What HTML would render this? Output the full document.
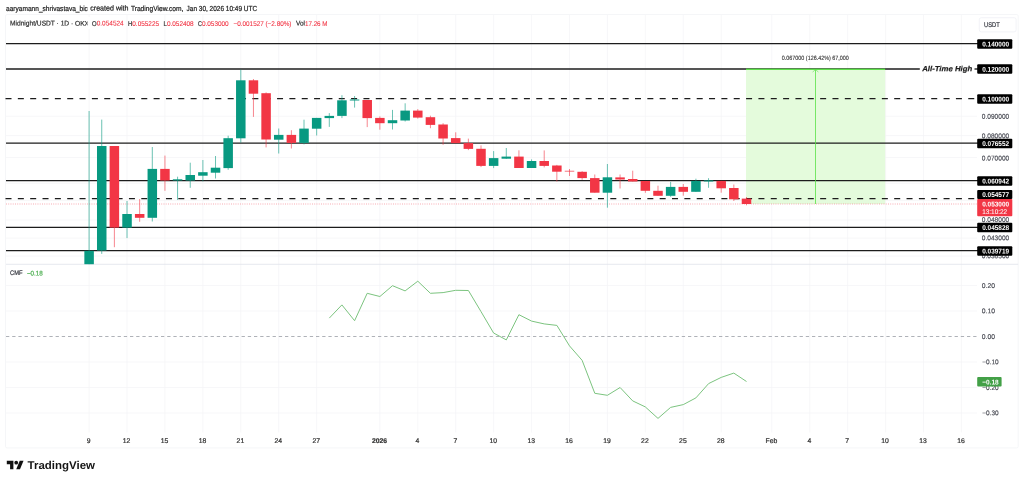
<!DOCTYPE html>
<html lang="en"><head><meta charset="utf-8"><title>Midnight/USDT chart</title>
<style>html,body{margin:0;padding:0;background:#fff;}body{width:1024px;height:482px;overflow:hidden;font-family:"Liberation Sans",Arial,sans-serif;}svg{display:block;}</style>
</head><body>
<svg width="1024" height="482" viewBox="0 0 1024 482" font-family="'Liberation Sans', Arial, sans-serif">
<rect width="1024" height="482" fill="#fff"/>
<rect x="5.5" y="14.5" width="1012.7" height="433.4" rx="1.5" fill="none" stroke="#f3f4f6" stroke-width="0.8"/>
<line x1="89.10" y1="15" x2="89.10" y2="432.5" stroke="#f3f4f6" stroke-width="0.7"/>
<line x1="127.03" y1="15" x2="127.03" y2="432.5" stroke="#f3f4f6" stroke-width="0.7"/>
<line x1="164.95" y1="15" x2="164.95" y2="432.5" stroke="#f3f4f6" stroke-width="0.7"/>
<line x1="202.88" y1="15" x2="202.88" y2="432.5" stroke="#f3f4f6" stroke-width="0.7"/>
<line x1="240.80" y1="15" x2="240.80" y2="432.5" stroke="#f3f4f6" stroke-width="0.7"/>
<line x1="278.73" y1="15" x2="278.73" y2="432.5" stroke="#f3f4f6" stroke-width="0.7"/>
<line x1="316.66" y1="15" x2="316.66" y2="432.5" stroke="#f3f4f6" stroke-width="0.7"/>
<line x1="379.87" y1="15" x2="379.87" y2="432.5" stroke="#f3f4f6" stroke-width="0.7"/>
<line x1="417.79" y1="15" x2="417.79" y2="432.5" stroke="#f3f4f6" stroke-width="0.7"/>
<line x1="455.72" y1="15" x2="455.72" y2="432.5" stroke="#f3f4f6" stroke-width="0.7"/>
<line x1="493.64" y1="15" x2="493.64" y2="432.5" stroke="#f3f4f6" stroke-width="0.7"/>
<line x1="531.57" y1="15" x2="531.57" y2="432.5" stroke="#f3f4f6" stroke-width="0.7"/>
<line x1="569.50" y1="15" x2="569.50" y2="432.5" stroke="#f3f4f6" stroke-width="0.7"/>
<line x1="607.42" y1="15" x2="607.42" y2="432.5" stroke="#f3f4f6" stroke-width="0.7"/>
<line x1="645.35" y1="15" x2="645.35" y2="432.5" stroke="#f3f4f6" stroke-width="0.7"/>
<line x1="683.27" y1="15" x2="683.27" y2="432.5" stroke="#f3f4f6" stroke-width="0.7"/>
<line x1="721.20" y1="15" x2="721.20" y2="432.5" stroke="#f3f4f6" stroke-width="0.7"/>
<line x1="771.77" y1="15" x2="771.77" y2="432.5" stroke="#f3f4f6" stroke-width="0.7"/>
<line x1="809.69" y1="15" x2="809.69" y2="432.5" stroke="#f3f4f6" stroke-width="0.7"/>
<line x1="847.62" y1="15" x2="847.62" y2="432.5" stroke="#f3f4f6" stroke-width="0.7"/>
<line x1="885.55" y1="15" x2="885.55" y2="432.5" stroke="#f3f4f6" stroke-width="0.7"/>
<line x1="923.47" y1="15" x2="923.47" y2="432.5" stroke="#f3f4f6" stroke-width="0.7"/>
<line x1="961.40" y1="15" x2="961.40" y2="432.5" stroke="#f3f4f6" stroke-width="0.7"/>
<line x1="6" y1="116.25" x2="977" y2="116.25" stroke="#f3f4f6" stroke-width="0.7"/>
<line x1="6" y1="135.59" x2="977" y2="135.59" stroke="#f3f4f6" stroke-width="0.7"/>
<line x1="6" y1="157.51" x2="977" y2="157.51" stroke="#f3f4f6" stroke-width="0.7"/>
<line x1="6" y1="183.30" x2="977" y2="183.30" stroke="#f3f4f6" stroke-width="0.7"/>
<line x1="6" y1="200.40" x2="977" y2="200.40" stroke="#f3f4f6" stroke-width="0.7"/>
<line x1="6" y1="219.97" x2="977" y2="219.97" stroke="#f3f4f6" stroke-width="0.7"/>
<line x1="6" y1="238.10" x2="977" y2="238.10" stroke="#f3f4f6" stroke-width="0.7"/>
<line x1="6" y1="256.08" x2="977" y2="256.08" stroke="#f3f4f6" stroke-width="0.7"/>
<line x1="6" y1="285.50" x2="977" y2="285.50" stroke="#f3f4f6" stroke-width="0.7"/>
<line x1="6" y1="311.00" x2="977" y2="311.00" stroke="#f3f4f6" stroke-width="0.7"/>
<line x1="6" y1="362.00" x2="977" y2="362.00" stroke="#f3f4f6" stroke-width="0.7"/>
<line x1="6" y1="387.50" x2="977" y2="387.50" stroke="#f3f4f6" stroke-width="0.7"/>
<line x1="6" y1="413.00" x2="977" y2="413.00" stroke="#f3f4f6" stroke-width="0.7"/>
<line x1="6" y1="264.3" x2="1018.2" y2="264.3" stroke="#e0e3eb" stroke-width="0.8"/>
<rect x="746" y="69" width="139.20000000000005" height="135" fill="#e4fbdc"/>
<line x1="6" y1="43.60" x2="978" y2="43.60" stroke="#1c1c1c" stroke-width="1.2"/>
<line x1="6" y1="143.05" x2="978" y2="143.05" stroke="#1c1c1c" stroke-width="1.3"/>
<line x1="6" y1="180.60" x2="978" y2="180.60" stroke="#1c1c1c" stroke-width="1.2"/>
<line x1="6" y1="227.30" x2="978" y2="227.30" stroke="#1c1c1c" stroke-width="1.2"/>
<line x1="6" y1="250.60" x2="978" y2="250.60" stroke="#1c1c1c" stroke-width="1.2"/>
<line x1="6" y1="69.00" x2="919.8" y2="69.00" stroke="#1c1c1c" stroke-width="1.35"/>
<line x1="974.5" y1="69.00" x2="978" y2="69.00" stroke="#1c1c1c" stroke-width="1.35"/>
<line x1="5.5" y1="98.55" x2="977" y2="98.55" stroke="#1c1c1c" stroke-width="1.2" stroke-dasharray="6.0 6.343"/>
<line x1="5.5" y1="198.55" x2="977" y2="198.55" stroke="#1c1c1c" stroke-width="1.2" stroke-dasharray="6.0 6.343"/>
<line x1="746" y1="69.5" x2="885.2" y2="69.5" stroke="#5ee04a" stroke-width="1"/>
<line x1="746" y1="68.6" x2="885.2" y2="68.6" stroke="#5ee04a" stroke-width="0.8" stroke-opacity="0.5"/>
<line x1="815.5" y1="69" x2="815.5" y2="204" stroke="#56e244" stroke-width="0.78"/>
<path d="M812.6 72 L815.5 69.6 L818.4 72" fill="none" stroke="#52e040" stroke-width="0.7" stroke-opacity="0.8"/>
<line x1="6" y1="204.0" x2="977" y2="204.0" stroke="#f47d88" stroke-width="1.5" stroke-dasharray="0.9 1.35" stroke-opacity="0.47"/>
<line x1="89.10" y1="111" x2="89.10" y2="264.2" stroke="#089981" stroke-width="1" stroke-opacity="0.6"/>
<rect x="84.35" y="250.8" width="9.5" height="13.40" fill="#089981"/>
<line x1="101.74" y1="119.6" x2="101.74" y2="253.9" stroke="#089981" stroke-width="1" stroke-opacity="0.6"/>
<rect x="96.99" y="146" width="9.5" height="104.50" fill="#089981"/>
<line x1="114.38" y1="146" x2="114.38" y2="247.2" stroke="#f23645" stroke-width="1" stroke-opacity="0.6"/>
<rect x="109.63" y="146" width="9.5" height="81.60" fill="#f23645"/>
<line x1="127.03" y1="201" x2="127.03" y2="238.1" stroke="#089981" stroke-width="1" stroke-opacity="0.6"/>
<rect x="122.28" y="214" width="9.5" height="13.60" fill="#089981"/>
<line x1="139.67" y1="199" x2="139.67" y2="221.8" stroke="#f23645" stroke-width="1" stroke-opacity="0.6"/>
<rect x="134.92" y="214" width="9.5" height="3.80" fill="#f23645"/>
<line x1="152.31" y1="147" x2="152.31" y2="221.5" stroke="#089981" stroke-width="1" stroke-opacity="0.6"/>
<rect x="147.56" y="168.9" width="9.5" height="48.90" fill="#089981"/>
<line x1="164.95" y1="155.6" x2="164.95" y2="190.8" stroke="#f23645" stroke-width="1" stroke-opacity="0.6"/>
<rect x="160.20" y="168.9" width="9.5" height="11.60" fill="#f23645"/>
<line x1="177.59" y1="176.7" x2="177.59" y2="199.9" stroke="#089981" stroke-width="1" stroke-opacity="0.6"/>
<rect x="172.84" y="179.3" width="9.5" height="1.20" fill="#089981"/>
<line x1="190.24" y1="162.7" x2="190.24" y2="187.8" stroke="#089981" stroke-width="1" stroke-opacity="0.6"/>
<rect x="185.49" y="175" width="9.5" height="5.50" fill="#089981"/>
<line x1="202.88" y1="160" x2="202.88" y2="181.3" stroke="#089981" stroke-width="1" stroke-opacity="0.6"/>
<rect x="198.13" y="172.2" width="9.5" height="3.50" fill="#089981"/>
<line x1="215.52" y1="156" x2="215.52" y2="178.5" stroke="#089981" stroke-width="1" stroke-opacity="0.6"/>
<rect x="210.77" y="167.7" width="9.5" height="5.00" fill="#089981"/>
<line x1="228.16" y1="135.7" x2="228.16" y2="169.8" stroke="#089981" stroke-width="1" stroke-opacity="0.6"/>
<rect x="223.41" y="138.2" width="9.5" height="29.90" fill="#089981"/>
<line x1="240.80" y1="69.6" x2="240.80" y2="142.7" stroke="#089981" stroke-width="1" stroke-opacity="0.6"/>
<rect x="236.05" y="80.3" width="9.5" height="58.00" fill="#089981"/>
<line x1="253.45" y1="79" x2="253.45" y2="116.9" stroke="#f23645" stroke-width="1" stroke-opacity="0.6"/>
<rect x="248.70" y="80.3" width="9.5" height="13.40" fill="#f23645"/>
<line x1="266.09" y1="92.4" x2="266.09" y2="147.4" stroke="#f23645" stroke-width="1" stroke-opacity="0.6"/>
<rect x="261.34" y="93.2" width="9.5" height="46.30" fill="#f23645"/>
<line x1="278.73" y1="128.5" x2="278.73" y2="153.5" stroke="#089981" stroke-width="1" stroke-opacity="0.6"/>
<rect x="273.98" y="134.9" width="9.5" height="4.80" fill="#089981"/>
<line x1="291.37" y1="130.2" x2="291.37" y2="148.5" stroke="#f23645" stroke-width="1" stroke-opacity="0.6"/>
<rect x="286.62" y="134.9" width="9.5" height="8.00" fill="#f23645"/>
<line x1="304.01" y1="119.7" x2="304.01" y2="144.4" stroke="#089981" stroke-width="1" stroke-opacity="0.6"/>
<rect x="299.26" y="128.6" width="9.5" height="14.30" fill="#089981"/>
<line x1="316.66" y1="117.9" x2="316.66" y2="135.5" stroke="#089981" stroke-width="1" stroke-opacity="0.6"/>
<rect x="311.91" y="117.9" width="9.5" height="10.80" fill="#089981"/>
<line x1="329.30" y1="113.1" x2="329.30" y2="126.9" stroke="#089981" stroke-width="1" stroke-opacity="0.6"/>
<rect x="324.55" y="115.9" width="9.5" height="2.20" fill="#089981"/>
<line x1="341.94" y1="95.2" x2="341.94" y2="118.1" stroke="#089981" stroke-width="1" stroke-opacity="0.6"/>
<rect x="337.19" y="100.3" width="9.5" height="15.60" fill="#089981"/>
<line x1="354.58" y1="96" x2="354.58" y2="107.6" stroke="#089981" stroke-width="1" stroke-opacity="0.6"/>
<rect x="349.83" y="99.5" width="9.5" height="1.00" fill="#089981"/>
<line x1="367.22" y1="100" x2="367.22" y2="127.1" stroke="#f23645" stroke-width="1" stroke-opacity="0.6"/>
<rect x="362.47" y="100" width="9.5" height="18.10" fill="#f23645"/>
<line x1="379.87" y1="116.4" x2="379.87" y2="129.7" stroke="#f23645" stroke-width="1" stroke-opacity="0.6"/>
<rect x="375.12" y="117.9" width="9.5" height="5.30" fill="#f23645"/>
<line x1="392.51" y1="109.9" x2="392.51" y2="129.5" stroke="#089981" stroke-width="1" stroke-opacity="0.6"/>
<rect x="387.76" y="120.2" width="9.5" height="3.00" fill="#089981"/>
<line x1="405.15" y1="103.3" x2="405.15" y2="121.5" stroke="#089981" stroke-width="1" stroke-opacity="0.6"/>
<rect x="400.40" y="110.6" width="9.5" height="9.90" fill="#089981"/>
<line x1="417.79" y1="109.1" x2="417.79" y2="118.6" stroke="#f23645" stroke-width="1" stroke-opacity="0.6"/>
<rect x="413.04" y="110.6" width="9.5" height="7.00" fill="#f23645"/>
<line x1="430.43" y1="115.7" x2="430.43" y2="128.2" stroke="#f23645" stroke-width="1" stroke-opacity="0.6"/>
<rect x="425.68" y="117.2" width="9.5" height="7.70" fill="#f23645"/>
<line x1="443.08" y1="123.2" x2="443.08" y2="144.8" stroke="#f23645" stroke-width="1" stroke-opacity="0.6"/>
<rect x="438.33" y="124.5" width="9.5" height="14.00" fill="#f23645"/>
<line x1="455.72" y1="132.3" x2="455.72" y2="143.1" stroke="#f23645" stroke-width="1" stroke-opacity="0.6"/>
<rect x="450.97" y="138.1" width="9.5" height="5.00" fill="#f23645"/>
<line x1="468.36" y1="138.6" x2="468.36" y2="150.1" stroke="#f23645" stroke-width="1" stroke-opacity="0.6"/>
<rect x="463.61" y="143.1" width="9.5" height="5.80" fill="#f23645"/>
<line x1="481.00" y1="145.4" x2="481.00" y2="167.1" stroke="#f23645" stroke-width="1" stroke-opacity="0.6"/>
<rect x="476.25" y="148.8" width="9.5" height="17.10" fill="#f23645"/>
<line x1="493.64" y1="151.1" x2="493.64" y2="168.1" stroke="#089981" stroke-width="1" stroke-opacity="0.6"/>
<rect x="488.89" y="158.1" width="9.5" height="7.80" fill="#089981"/>
<line x1="506.29" y1="148" x2="506.29" y2="158.9" stroke="#089981" stroke-width="1" stroke-opacity="0.6"/>
<rect x="501.54" y="156.6" width="9.5" height="2.10" fill="#089981"/>
<line x1="518.93" y1="150.3" x2="518.93" y2="168" stroke="#f23645" stroke-width="1" stroke-opacity="0.6"/>
<rect x="514.18" y="156.6" width="9.5" height="11.40" fill="#f23645"/>
<line x1="531.57" y1="159.4" x2="531.57" y2="168" stroke="#089981" stroke-width="1" stroke-opacity="0.6"/>
<rect x="526.82" y="161" width="9.5" height="7.00" fill="#089981"/>
<line x1="544.21" y1="150.4" x2="544.21" y2="167.4" stroke="#f23645" stroke-width="1" stroke-opacity="0.6"/>
<rect x="539.46" y="161" width="9.5" height="4.90" fill="#f23645"/>
<line x1="556.85" y1="164.9" x2="556.85" y2="181.5" stroke="#f23645" stroke-width="1" stroke-opacity="0.6"/>
<rect x="552.10" y="165.5" width="9.5" height="6.20" fill="#f23645"/>
<line x1="569.50" y1="169" x2="569.50" y2="176" stroke="#f23645" stroke-width="1" stroke-opacity="0.6"/>
<rect x="564.75" y="170.8" width="9.5" height="0.70" fill="#f23645"/>
<line x1="582.14" y1="171.2" x2="582.14" y2="179.8" stroke="#f23645" stroke-width="1" stroke-opacity="0.6"/>
<rect x="577.39" y="171.8" width="9.5" height="6.30" fill="#f23645"/>
<line x1="594.78" y1="174.5" x2="594.78" y2="192.7" stroke="#f23645" stroke-width="1" stroke-opacity="0.6"/>
<rect x="590.03" y="178.1" width="9.5" height="14.60" fill="#f23645"/>
<line x1="607.42" y1="164" x2="607.42" y2="207.7" stroke="#089981" stroke-width="1" stroke-opacity="0.6"/>
<rect x="602.67" y="177.3" width="9.5" height="15.40" fill="#089981"/>
<line x1="620.06" y1="174.5" x2="620.06" y2="188.5" stroke="#f23645" stroke-width="1" stroke-opacity="0.6"/>
<rect x="615.31" y="177.4" width="9.5" height="2.10" fill="#f23645"/>
<line x1="632.71" y1="170.7" x2="632.71" y2="181.5" stroke="#f23645" stroke-width="1" stroke-opacity="0.6"/>
<rect x="627.96" y="179" width="9.5" height="2.50" fill="#f23645"/>
<line x1="645.35" y1="181" x2="645.35" y2="192.8" stroke="#f23645" stroke-width="1" stroke-opacity="0.6"/>
<rect x="640.60" y="181" width="9.5" height="9.80" fill="#f23645"/>
<line x1="657.99" y1="185.7" x2="657.99" y2="195.8" stroke="#f23645" stroke-width="1" stroke-opacity="0.6"/>
<rect x="653.24" y="190.8" width="9.5" height="5.00" fill="#f23645"/>
<line x1="670.63" y1="181.9" x2="670.63" y2="196.8" stroke="#089981" stroke-width="1" stroke-opacity="0.6"/>
<rect x="665.88" y="186.9" width="9.5" height="8.90" fill="#089981"/>
<line x1="683.27" y1="184" x2="683.27" y2="195.7" stroke="#f23645" stroke-width="1" stroke-opacity="0.6"/>
<rect x="678.52" y="186.9" width="9.5" height="4.90" fill="#f23645"/>
<line x1="695.92" y1="178.7" x2="695.92" y2="191.8" stroke="#089981" stroke-width="1" stroke-opacity="0.6"/>
<rect x="691.17" y="180.9" width="9.5" height="10.90" fill="#089981"/>
<line x1="708.56" y1="178.2" x2="708.56" y2="187.8" stroke="#089981" stroke-width="1" stroke-opacity="0.6"/>
<rect x="703.81" y="180.4" width="9.5" height="1.10" fill="#089981"/>
<line x1="721.20" y1="180.9" x2="721.20" y2="192.7" stroke="#f23645" stroke-width="1" stroke-opacity="0.6"/>
<rect x="716.45" y="180.9" width="9.5" height="7.40" fill="#f23645"/>
<line x1="733.84" y1="184.5" x2="733.84" y2="201" stroke="#f23645" stroke-width="1" stroke-opacity="0.6"/>
<rect x="729.09" y="188" width="9.5" height="11.30" fill="#f23645"/>
<line x1="746.48" y1="197" x2="746.48" y2="205.3" stroke="#f23645" stroke-width="1" stroke-opacity="0.6"/>
<rect x="741.73" y="198.6" width="9.5" height="5.40" fill="#f23645"/>
<polyline points="329.3,318.1 341.9,304.9 354.6,320.7 367.2,293.3 379.9,296.5 392.5,285.7 405.1,290.9 417.8,281.2 430.4,293.3 443.1,292.6 455.7,290.3 468.4,290.5 481.0,311.6 493.6,333.0 506.3,339.9 518.9,314.7 531.6,321.1 544.2,323.9 556.9,325.4 569.5,345.9 582.1,360.3 594.8,393.3 607.4,395.3 620.1,387.5 632.7,400.9 645.3,406.9 658.0,418.4 670.6,407.4 683.3,404.6 695.9,397.9 708.6,383.6 721.2,377.4 733.8,373.1 746.5,381.5" fill="none" stroke="#7cc47f" stroke-width="1.0" stroke-linejoin="round"/>
<line x1="6" y1="336.5" x2="977" y2="336.5" stroke="#8d909a" stroke-width="0.7" stroke-dasharray="3.3 2.9"/>
<text x="6" y="10.6" font-size="7.3" fill="#222" stroke="#222" stroke-width="0.22" textLength="81.9" lengthAdjust="spacingAndGlyphs" transform="rotate(0.03 6 10.6)">aaryamann_shrivastava_bic</text>
<text x="90.25" y="10.6" font-size="7.3" fill="#222" stroke="#222" stroke-width="0.22" textLength="38.25" lengthAdjust="spacingAndGlyphs" transform="rotate(0.03 90.25 10.6)">created with</text>
<text x="130.9" y="10.6" font-size="7.3" fill="#222" stroke="#222" stroke-width="0.22" textLength="52.4" lengthAdjust="spacingAndGlyphs" transform="rotate(0.03 130.9 10.6)">TradingView.com,</text>
<text x="186.6" y="10.6" font-size="7.3" fill="#222" stroke="#222" stroke-width="0.22" textLength="70.5" lengthAdjust="spacingAndGlyphs" transform="rotate(0.03 186.6 10.6)">Jan 30, 2026 10:49 UTC</text>
<text x="10" y="25.6" font-size="6.9" fill="#333" stroke="#333" stroke-width="0.22" textLength="79" lengthAdjust="spacingAndGlyphs" transform="rotate(0.03 10 25.6)">Midnight/USDT · 1D · OKX</text>
<rect x="87.6" y="17" width="4" height="12" fill="#fff"/>
<text x="92.0" y="25.6" font-size="6.9" fill="#333" stroke="#333" stroke-width="0.22" textLength="4.6" lengthAdjust="spacingAndGlyphs" transform="rotate(0.03 92.0 25.6)">O</text>
<text x="96.7" y="25.6" font-size="6.9" fill="#f23645" stroke="#f23645" stroke-width="0.1" textLength="27" lengthAdjust="spacingAndGlyphs" transform="rotate(0.03 96.7 25.6)">0.054524</text>
<text x="127.9" y="25.6" font-size="6.9" fill="#333" stroke="#333" stroke-width="0.22" textLength="4.3" lengthAdjust="spacingAndGlyphs" transform="rotate(0.03 127.9 25.6)">H</text>
<text x="132.3" y="25.6" font-size="6.9" fill="#f23645" stroke="#f23645" stroke-width="0.1" textLength="26.8" lengthAdjust="spacingAndGlyphs" transform="rotate(0.03 132.3 25.6)">0.055225</text>
<text x="163.5" y="25.6" font-size="6.9" fill="#333" stroke="#333" stroke-width="0.22" textLength="3.3" lengthAdjust="spacingAndGlyphs" transform="rotate(0.03 163.5 25.6)">L</text>
<text x="166.9" y="25.6" font-size="6.9" fill="#f23645" stroke="#f23645" stroke-width="0.1" textLength="26.8" lengthAdjust="spacingAndGlyphs" transform="rotate(0.03 166.9 25.6)">0.052408</text>
<text x="197.9" y="25.6" font-size="6.9" fill="#333" stroke="#333" stroke-width="0.22" textLength="4.0" lengthAdjust="spacingAndGlyphs" transform="rotate(0.03 197.9 25.6)">C</text>
<text x="201.9" y="25.6" font-size="6.9" fill="#f23645" stroke="#f23645" stroke-width="0.1" textLength="26.8" lengthAdjust="spacingAndGlyphs" transform="rotate(0.03 201.9 25.6)">0.053000</text>
<text x="233.5" y="25.6" font-size="6.9" fill="#f23645" stroke="#f23645" stroke-width="0.1" textLength="58" lengthAdjust="spacingAndGlyphs" transform="rotate(0.03 233.5 25.6)">−0.001527 (−2.80%)</text>
<text x="296" y="25.6" font-size="6.9" fill="#333" stroke="#333" stroke-width="0.22" textLength="9" lengthAdjust="spacingAndGlyphs" transform="rotate(0.03 296 25.6)">Vol</text>
<text x="305" y="25.6" font-size="6.9" fill="#f23645" stroke="#f23645" stroke-width="0.1" textLength="22.5" lengthAdjust="spacingAndGlyphs" transform="rotate(0.03 305 25.6)">17.26 M</text>
<text x="10" y="275.4" font-size="6.7" fill="#3a3c44" stroke="#3a3c44" stroke-width="0.22" textLength="12.5" lengthAdjust="spacingAndGlyphs" transform="rotate(0.03 10 275.4)">CMF</text>
<text x="26.9" y="275.4" font-size="6.7" fill="#4caf50" stroke="#4caf50" stroke-width="0.22" textLength="16" lengthAdjust="spacingAndGlyphs" transform="rotate(0.03 26.9 275.4)">−0.18</text>
<rect x="979.3" y="17.7" width="36.8" height="14.2" rx="2" fill="#fff" stroke="#eceef3" stroke-width="0.7"/>
<text x="984.1" y="27.45" font-size="6.9" fill="#3a3c44" stroke="#3a3c44" stroke-width="0.22" textLength="15.6" lengthAdjust="spacingAndGlyphs" transform="rotate(0.03 984.1 27.45)">USDT</text>
<text x="981.8" y="118.85" font-size="6.9" fill="#454750" stroke="#454750" stroke-width="0.14" textLength="27.4" lengthAdjust="spacingAndGlyphs" transform="rotate(0.03 981.8 118.85)">0.090000</text>
<text x="981.8" y="138.19" font-size="6.9" fill="#454750" stroke="#454750" stroke-width="0.14" textLength="27.4" lengthAdjust="spacingAndGlyphs" transform="rotate(0.03 981.8 138.19)">0.080000</text>
<text x="981.8" y="160.56" font-size="6.9" fill="#454750" stroke="#454750" stroke-width="0.14" textLength="27.4" lengthAdjust="spacingAndGlyphs" transform="rotate(0.03 981.8 160.56)">0.070000</text>
<text x="981.8" y="222.07" font-size="6.9" fill="#454750" stroke="#454750" stroke-width="0.14" textLength="27.4" lengthAdjust="spacingAndGlyphs" transform="rotate(0.03 981.8 222.07)">0.048000</text>
<text x="981.8" y="240.13" font-size="6.9" fill="#454750" stroke="#454750" stroke-width="0.14" textLength="27.4" lengthAdjust="spacingAndGlyphs" transform="rotate(0.03 981.8 240.13)">0.043000</text>
<text x="981.8" y="258.28" font-size="6.9" fill="#454750" stroke="#454750" stroke-width="0.14" textLength="27.4" lengthAdjust="spacingAndGlyphs" transform="rotate(0.03 981.8 258.28)">0.038500</text>
<text x="981.8" y="288.05" font-size="6.9" fill="#454750" stroke="#454750" stroke-width="0.14" textLength="13.2" lengthAdjust="spacingAndGlyphs" transform="rotate(0.03 981.8 288.05)">0.20</text>
<text x="981.8" y="313.15" font-size="6.9" fill="#454750" stroke="#454750" stroke-width="0.14" textLength="13.2" lengthAdjust="spacingAndGlyphs" transform="rotate(0.03 981.8 313.15)">0.10</text>
<text x="981.8" y="338.95" font-size="6.9" fill="#454750" stroke="#454750" stroke-width="0.14" textLength="13.2" lengthAdjust="spacingAndGlyphs" transform="rotate(0.03 981.8 338.95)">0.00</text>
<text x="982.2" y="364.35" font-size="6.9" fill="#454750" stroke="#454750" stroke-width="0.14" textLength="16.4" lengthAdjust="spacingAndGlyphs" transform="rotate(0.03 982.2 364.35)">−0.10</text>
<text x="982.2" y="390.05" font-size="6.9" fill="#454750" stroke="#454750" stroke-width="0.14" textLength="16.4" lengthAdjust="spacingAndGlyphs" transform="rotate(0.03 982.2 390.05)">−0.20</text>
<text x="982.2" y="415.25" font-size="6.9" fill="#454750" stroke="#454750" stroke-width="0.14" textLength="16.4" lengthAdjust="spacingAndGlyphs" transform="rotate(0.03 982.2 415.25)">−0.30</text>
<rect x="977.2" y="39.15" width="35.1" height="9.5" rx="1" fill="#000"/>
<text x="982.2" y="46.5" font-size="6.9" fill="#fff" font-weight="bold" textLength="26.9" lengthAdjust="spacingAndGlyphs" transform="rotate(0.03 982.2 46.5)">0.140000</text>
<rect x="977.2" y="64.35" width="35.1" height="9.5" rx="1" fill="#000"/>
<text x="982.2" y="71.7" font-size="6.9" fill="#fff" font-weight="bold" textLength="26.9" lengthAdjust="spacingAndGlyphs" transform="rotate(0.03 982.2 71.7)">0.120000</text>
<rect x="977.2" y="94.15" width="35.1" height="9.5" rx="1" fill="#000"/>
<text x="982.2" y="101.5" font-size="6.9" fill="#fff" font-weight="bold" textLength="26.9" lengthAdjust="spacingAndGlyphs" transform="rotate(0.03 982.2 101.5)">0.100000</text>
<rect x="977.2" y="138.65" width="35.1" height="9.5" rx="1" fill="#000"/>
<text x="982.2" y="146.0" font-size="6.9" fill="#fff" font-weight="bold" textLength="26.9" lengthAdjust="spacingAndGlyphs" transform="rotate(0.03 982.2 146.0)">0.076552</text>
<rect x="977.2" y="176.15" width="35.1" height="9.5" rx="1" fill="#000"/>
<text x="982.2" y="183.5" font-size="6.9" fill="#fff" font-weight="bold" textLength="26.9" lengthAdjust="spacingAndGlyphs" transform="rotate(0.03 982.2 183.5)">0.060942</text>
<rect x="977.2" y="190.00" width="35.1" height="9.0" rx="1" fill="#000"/>
<text x="982.2" y="197.1" font-size="6.9" fill="#fff" font-weight="bold" textLength="26.9" lengthAdjust="spacingAndGlyphs" transform="rotate(0.03 982.2 197.1)">0.054577</text>
<rect x="977.2" y="199" width="35.1" height="17.3" rx="1" fill="#f23645"/>
<text x="982.2" y="206.6" font-size="6.9" fill="#fff" font-weight="bold" textLength="26.9" lengthAdjust="spacingAndGlyphs" transform="rotate(0.03 982.2 206.6)">0.053000</text>
<text x="982.2" y="214.4" font-size="6.9" fill="#fee" stroke="#fee" stroke-width="0.1" textLength="25" lengthAdjust="spacingAndGlyphs" transform="rotate(0.03 982.2 214.4)">13:10:22</text>
<rect x="977.2" y="222.65" width="35.1" height="9.5" rx="1" fill="#000"/>
<text x="982.2" y="230.0" font-size="6.9" fill="#fff" font-weight="bold" textLength="26.9" lengthAdjust="spacingAndGlyphs" transform="rotate(0.03 982.2 230.0)">0.045828</text>
<rect x="977.2" y="246.15" width="35.1" height="9.5" rx="1" fill="#000"/>
<text x="982.2" y="253.5" font-size="6.9" fill="#fff" font-weight="bold" textLength="26.9" lengthAdjust="spacingAndGlyphs" transform="rotate(0.03 982.2 253.5)">0.039719</text>
<rect x="977.2" y="377.10" width="24.4" height="9.5" rx="1" fill="#43a047"/>
<text x="982.2" y="384.45" font-size="6.9" fill="#fff" font-weight="bold" textLength="16.5" lengthAdjust="spacingAndGlyphs" transform="rotate(0.03 982.2 384.45)">−0.18</text>
<text x="922.2" y="71.2" font-size="7.6" fill="#222" stroke="#222" stroke-width="0.22" font-weight="bold" font-style="italic" textLength="50" lengthAdjust="spacingAndGlyphs" transform="rotate(0.03 922.2 71.2)">All-Time High</text>
<text x="815.3" y="59.7" font-size="6.2" fill="#333" stroke="#333" stroke-width="0.12" text-anchor="middle" textLength="66.9" lengthAdjust="spacingAndGlyphs" transform="rotate(0.03 815.3 59.7)">0.067000 (126.42%) 67,000</text>
<text x="88.7" y="443" font-size="6.8" fill="#333" stroke="#333" stroke-width="0.22" text-anchor="middle" transform="rotate(0.03 88.7 443)">9</text>
<text x="126.6" y="443" font-size="6.8" fill="#333" stroke="#333" stroke-width="0.22" text-anchor="middle" transform="rotate(0.03 126.6 443)">12</text>
<text x="164.6" y="443" font-size="6.8" fill="#333" stroke="#333" stroke-width="0.22" text-anchor="middle" transform="rotate(0.03 164.6 443)">15</text>
<text x="202.5" y="443" font-size="6.8" fill="#333" stroke="#333" stroke-width="0.22" text-anchor="middle" transform="rotate(0.03 202.5 443)">18</text>
<text x="240.4" y="443" font-size="6.8" fill="#333" stroke="#333" stroke-width="0.22" text-anchor="middle" transform="rotate(0.03 240.4 443)">21</text>
<text x="278.3" y="443" font-size="6.8" fill="#333" stroke="#333" stroke-width="0.22" text-anchor="middle" transform="rotate(0.03 278.3 443)">24</text>
<text x="316.3" y="443" font-size="6.8" fill="#333" stroke="#333" stroke-width="0.22" text-anchor="middle" transform="rotate(0.03 316.3 443)">27</text>
<text x="379.5" y="443" font-size="6.8" fill="#333" stroke="#333" stroke-width="0.22" text-anchor="middle" font-weight="bold" transform="rotate(0.03 379.5 443)">2026</text>
<text x="417.4" y="443" font-size="6.8" fill="#333" stroke="#333" stroke-width="0.22" text-anchor="middle" transform="rotate(0.03 417.4 443)">4</text>
<text x="455.3" y="443" font-size="6.8" fill="#333" stroke="#333" stroke-width="0.22" text-anchor="middle" transform="rotate(0.03 455.3 443)">7</text>
<text x="493.2" y="443" font-size="6.8" fill="#333" stroke="#333" stroke-width="0.22" text-anchor="middle" transform="rotate(0.03 493.2 443)">10</text>
<text x="531.2" y="443" font-size="6.8" fill="#333" stroke="#333" stroke-width="0.22" text-anchor="middle" transform="rotate(0.03 531.2 443)">13</text>
<text x="569.1" y="443" font-size="6.8" fill="#333" stroke="#333" stroke-width="0.22" text-anchor="middle" transform="rotate(0.03 569.1 443)">16</text>
<text x="607.0" y="443" font-size="6.8" fill="#333" stroke="#333" stroke-width="0.22" text-anchor="middle" transform="rotate(0.03 607.0 443)">19</text>
<text x="644.9" y="443" font-size="6.8" fill="#333" stroke="#333" stroke-width="0.22" text-anchor="middle" transform="rotate(0.03 644.9 443)">22</text>
<text x="682.9" y="443" font-size="6.8" fill="#333" stroke="#333" stroke-width="0.22" text-anchor="middle" transform="rotate(0.03 682.9 443)">25</text>
<text x="720.8" y="443" font-size="6.8" fill="#333" stroke="#333" stroke-width="0.22" text-anchor="middle" transform="rotate(0.03 720.8 443)">28</text>
<text x="771.4" y="443" font-size="6.8" fill="#333" stroke="#333" stroke-width="0.22" text-anchor="middle" transform="rotate(0.03 771.4 443)">Feb</text>
<text x="809.3" y="443" font-size="6.8" fill="#333" stroke="#333" stroke-width="0.22" text-anchor="middle" transform="rotate(0.03 809.3 443)">4</text>
<text x="847.2" y="443" font-size="6.8" fill="#333" stroke="#333" stroke-width="0.22" text-anchor="middle" transform="rotate(0.03 847.2 443)">7</text>
<text x="885.1" y="443" font-size="6.8" fill="#333" stroke="#333" stroke-width="0.22" text-anchor="middle" transform="rotate(0.03 885.1 443)">10</text>
<text x="923.1" y="443" font-size="6.8" fill="#333" stroke="#333" stroke-width="0.22" text-anchor="middle" transform="rotate(0.03 923.1 443)">13</text>
<text x="961.0" y="443" font-size="6.8" fill="#333" stroke="#333" stroke-width="0.22" text-anchor="middle" transform="rotate(0.03 961.0 443)">16</text>
<g transform="translate(6.8,459.0) scale(0.471 0.466)" fill="#111"><path d="M14 22H7V11H0V4h14v18z"/><circle cx="20" cy="8" r="4"/><path d="M28 22h-8l7.5-18h8L28 22z"/></g>
<text x="27.6" y="468.9" font-size="11.3" fill="#151515" font-weight="bold" textLength="67.4" lengthAdjust="spacingAndGlyphs" transform="rotate(0.03 27.6 468.9)">TradingView</text>
</svg>
</body></html>
